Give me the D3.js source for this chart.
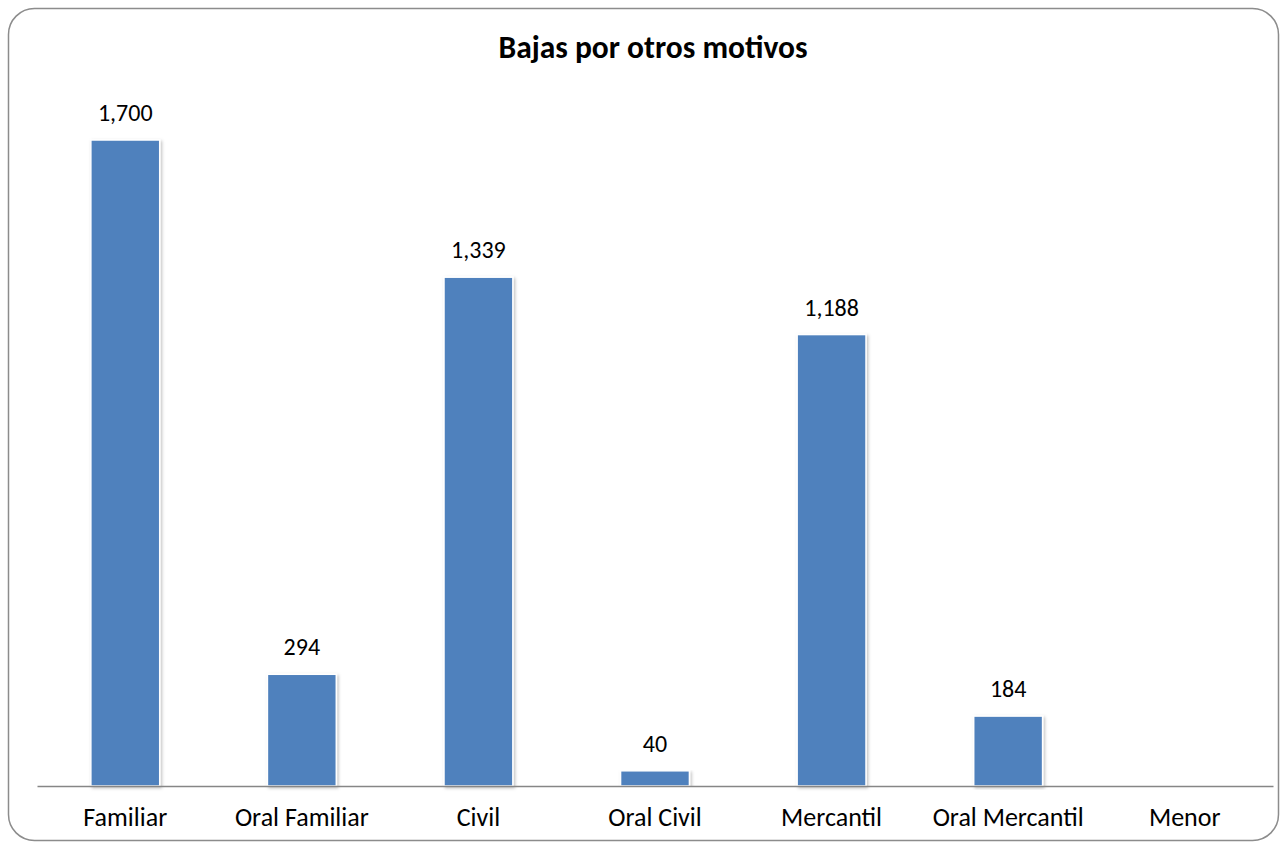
<!DOCTYPE html>
<meta charset="utf-8">
<title>Bajas por otros motivos</title>
<script src="https://d3js.org/d3.v7.min.js"></script>
<style>
    body { margin: 0; background: #fff; }
    text { font-family: Carlito, Lato, "Open Sans", sans-serif; fill: #000; }
</style>
<body>
    <div id="my_dataviz"></div>
    <script>

        // data
        var categories = ["Familiar", "Oral Familiar", "Civil", "Oral Civil", "Mercantil", "Oral Mercantil", "Menor"];
        var values = [1700, 294, 1339, 40, 1188, 184, 0];
        var chartTitle = "Bajas por otros motivos";

        var W = 1287, H = 849;
        var margin = { top: 26, right: 14, bottom: 63, left: 37 },
            width = W - margin.left - margin.right,
            height = H - margin.top - margin.bottom;

        var svg = d3.select("#my_dataviz")
            .append("svg")
            .attr("width", W)
            .attr("height", H);

        // shadow filter for the bars
        var defs = svg.append("defs");
        var f = defs.append("filter").attr("id", "shadow")
            .attr("x", "-20%").attr("y", "-5%").attr("width", "140%").attr("height", "110%");
        f.append("feDropShadow")
            .attr("dx", 1.5).attr("dy", 1.5).attr("stdDeviation", 1.5)
            .attr("flood-color", "#000").attr("flood-opacity", 0.25);

        // outer frame
        svg.append("rect")
            .attr("x", 8.5).attr("y", 8.5)
            .attr("width", W - 17).attr("height", H - 17)
            .attr("rx", 26).attr("ry", 26)
            .style("fill", "#fff")
            .style("stroke", "#8c8c8c")
            .style("stroke-width", 1.5);

        svg.append("text")
            .attr("x", 653)
            .attr("y", 58)
            .attr("text-anchor", "middle")
            .style("font-weight", "bold")
            .style("font-size", "31.5px")
            .text(chartTitle);

        var g = svg.append("g")
            .attr("transform", "translate(" + margin.left + "," + margin.top + ")");

        var x = d3.scaleBand()
            .domain(categories)
            .range([0, width])
            .paddingInner(0.61)
            .paddingOuter(0.305);

        var y = d3.scaleLinear()
            .domain([0, 2000])
            .range([height, 0]);

        var data = categories.map(function (c, i) { return { cat: c, val: values[i] }; });

        // bars
        g.append("g")
            .selectAll("rect")
            .data(data.filter(function (d) { return d.val > 0; }))
            .enter()
            .append("rect")
            .attr("x", function (d) { return x(d.cat); })
            .attr("y", function (d) { return y(d.val); })
            .attr("width", x.bandwidth())
            .attr("height", function (d) { return height - y(d.val); })
            .style("fill", "#4f81bd")
            .style("stroke", "#fff")
            .style("stroke-width", 1.5)
            .attr("filter", "url(#shadow)");

        // value labels
        g.append("g")
            .selectAll("text")
            .data(data.filter(function (d) { return d.val > 0; }))
            .enter()
            .append("text")
            .attr("x", function (d) { return x(d.cat) + x.bandwidth() / 2; })
            .attr("y", function (d) { return y(d.val) - 19; })
            .attr("text-anchor", "middle")
            .style("font-size", "24px")
            .text(function (d) { return d3.format(",")(d.val); });

        // x axis
        var xAxis = g.append("g")
            .attr("transform", "translate(0," + height + ")")
            .call(d3.axisBottom(x).tickSize(0));
        xAxis.select(".domain").style("stroke", "#868686").style("stroke-width", 1.5);
        xAxis.selectAll("text")
            .attr("y", 40)
            .attr("dy", 0)
            .style("font-size", "26px")
            .style("font-family", "Carlito, Lato, 'Open Sans', sans-serif");

    </script>
</body>
